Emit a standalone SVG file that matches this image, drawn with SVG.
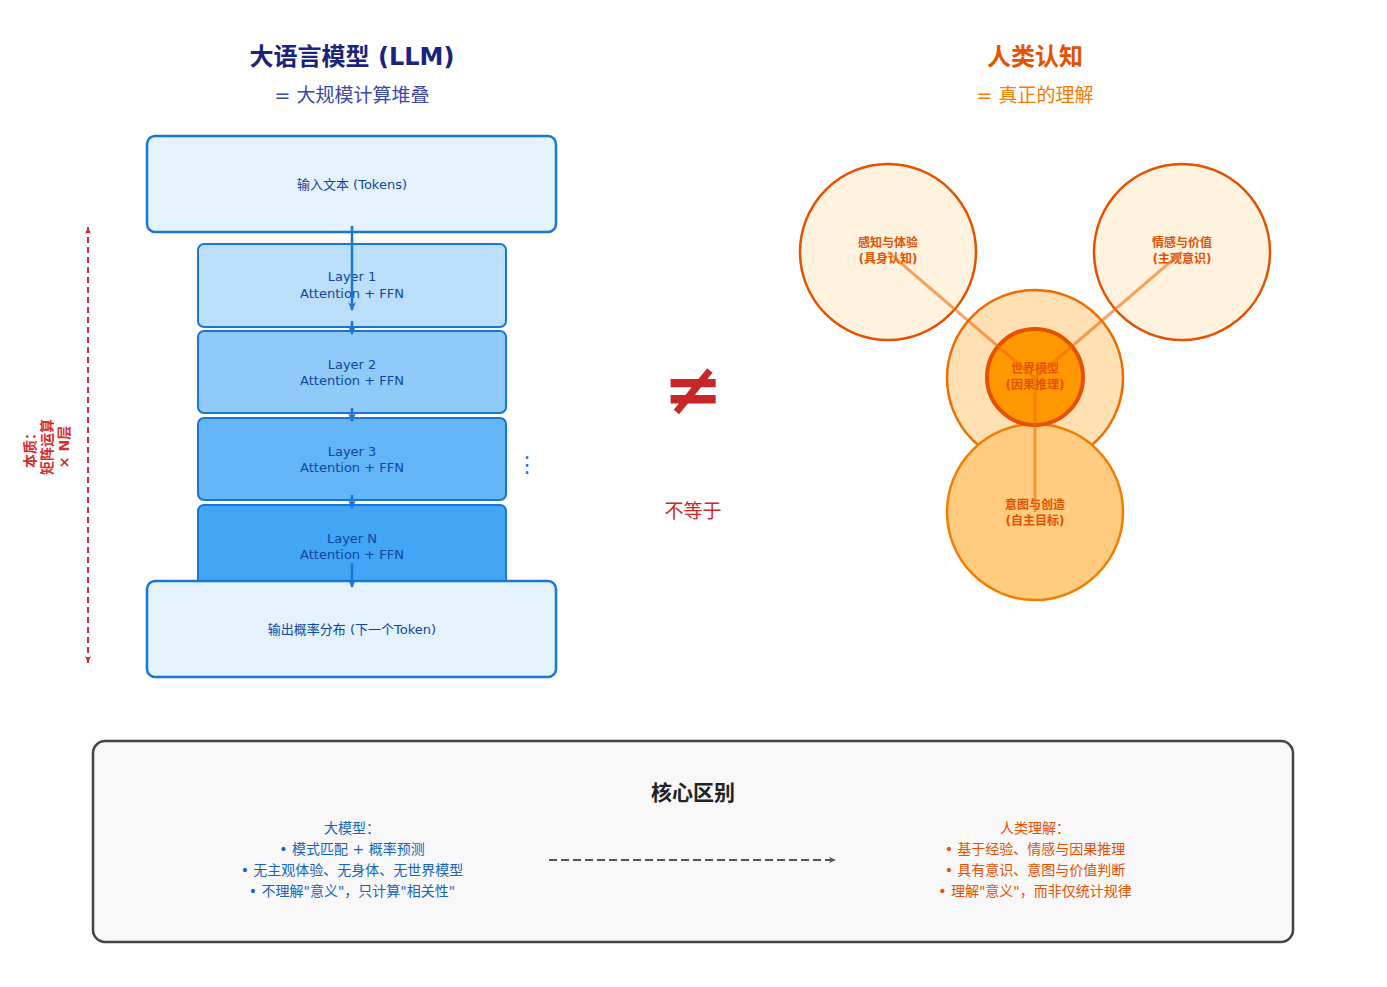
<svg xmlns="http://www.w3.org/2000/svg" width="1387" height="987" viewBox="0 0 1387 987">
<style>
text{font-family:"DejaVu Sans","Noto Sans CJK SC",sans-serif;text-anchor:middle}
.blue{fill:#0d47a1;font-size:13px}
.layer{stroke:#1976d2;stroke-width:2}
.io{fill:#e3f2fd;stroke:#1976d2;stroke-width:2.5}
.ar{stroke:#1976d2;stroke-width:2.5;fill:none}
.cog{font-size:12px;font-weight:bold;fill:#e65100}
</style>
<defs>
<marker id="ab" markerUnits="userSpaceOnUse" markerWidth="10" markerHeight="10" refX="8" refY="5" orient="auto"><path d="M0,1 L9,5 L0,9 L3,5 Z" fill="#1976d2"/></marker>
<marker id="ar" markerUnits="userSpaceOnUse" markerWidth="8" markerHeight="8" refX="7" refY="4" orient="auto-start-reverse"><path d="M0,1 L7,4 L0,7 L2,4 Z" fill="#d32f2f"/></marker>
<marker id="ag" markerUnits="userSpaceOnUse" markerWidth="8" markerHeight="8" refX="7" refY="4" orient="auto"><path d="M0,1 L7,4 L0,7 L2,4 Z" fill="#555"/></marker>
</defs>
<rect width="1387" height="987" fill="#fff"/>
<text x="352" y="65" font-size="24" font-weight="bold" fill="#1a237e">大语言模型 (LLM)</text>
<text x="352" y="102" font-size="19" fill="#3949ab">= 大规模计算堆叠</text>
<text x="1035" y="65" font-size="24" font-weight="bold" fill="#e65100">人类认知</text>
<text x="1035" y="102" font-size="19" fill="#f57c00">= 真正的理解</text>
<g id="input"><rect class="io" x="147" y="136" width="409" height="96" rx="8"/><text class="blue" x="352" y="189" font-size="16">输入文本 (Tokens)</text></g>
<g id="layer1"><rect class="layer" x="198" y="244" width="308" height="83" rx="6" fill="#bbdefb"/><text class="blue" x="352" y="281">Layer 1</text><text class="blue" x="352" y="298">Attention + FFN</text></g>
<g id="layer2"><rect class="layer" x="198" y="331" width="308" height="82" rx="6" fill="#90caf9"/><text class="blue" x="352" y="369">Layer 2</text><text class="blue" x="352" y="385">Attention + FFN</text></g>
<g id="layer3"><rect class="layer" x="198" y="418" width="308" height="82" rx="6" fill="#64b5f6"/><text class="blue" x="352" y="456">Layer 3</text><text class="blue" x="352" y="472">Attention + FFN</text></g>
<g id="layerN"><rect class="layer" x="198" y="505" width="308" height="90" rx="6" fill="#42a5f5"/><text class="blue" x="352" y="543">Layer N</text><text class="blue" x="352" y="559">Attention + FFN</text></g>
<g id="output"><rect class="io" x="147" y="581" width="409" height="96" rx="8"/><text class="blue" x="352" y="634" font-size="15">输出概率分布 (下一个Token)</text></g>
<text x="527" y="472" font-size="22" fill="#1976d2">⋮</text>
<g transform="translate(48,447) rotate(-90)" font-size="14" font-weight="bold" fill="#d32f2f">
<text x="0" y="-13">本质：</text><text x="0" y="4">矩阵运算</text><text x="0" y="21">× N层</text></g>
<text x="693" y="414" font-size="72" font-weight="bold" fill="#c62828">≠</text>
<text x="693" y="518" font-size="19" fill="#c62828">不等于</text>
<g id="perception"><circle cx="888" cy="252" r="88" fill="#fff3e0" stroke="#e65100" stroke-width="2.5"/></g>
<g id="emotion"><circle cx="1182" cy="252" r="88" fill="#fff3e0" stroke="#e65100" stroke-width="2.5"/></g>
<g id="worldouter"><circle cx="1035" cy="378" r="88" fill="#ffe0b2" stroke="#ef6c00" stroke-width="2.5"/></g>
<g id="intent"><circle cx="1035" cy="512" r="88" fill="#ffcc80" stroke="#f57c00" stroke-width="2.5"/><text class="cog" x="1035" y="509" fill="#ef6c00">意图与创造</text><text class="cog" x="1035" y="525" fill="#ef6c00">(自主目标)</text></g>
<g id="world"><circle cx="1035" cy="377" r="48" fill="#ff9800" stroke="#e65100" stroke-width="4"/><text class="cog" x="1035" y="373" fill="#ffb74d">世界模型</text><text class="cog" x="1035" y="389" fill="#ffb74d">(因果推理)</text></g>
<text class="cog" x="888" y="247">感知与体验</text><text class="cog" x="888" y="263">(具身认知)</text>
<text class="cog" x="1182" y="247">情感与价值</text><text class="cog" x="1182" y="263">(主观意识)</text>
<g id="summary"><rect x="93" y="741" width="1200" height="201" rx="12" fill="#f8f8f8" stroke="#444" stroke-width="2.5"/>
<text x="693" y="800" font-size="21" font-weight="bold" fill="#222">核心区别</text>
<g font-size="14" fill="#1565c0"><text x="352" y="833">大模型：</text><text x="352" y="854">• 模式匹配 + 概率预测</text><text x="352" y="875">• 无主观体验、无身体、无世界模型</text><text x="352" y="896">• 不理解"意义"，只计算"相关性"</text></g>
<g font-size="14" fill="#e65100"><text x="1035" y="833">人类理解：</text><text x="1035" y="854">• 基于经验、情感与因果推理</text><text x="1035" y="875">• 具有意识、意图与价值判断</text><text x="1035" y="896">• 理解"意义"，而非仅统计规律</text></g></g>
<g id="connectors">
<line class="ar" x1="352" y1="226" x2="352" y2="310" marker-end="url(#ab)"/>
<line class="ar" x1="352" y1="321" x2="352" y2="334" stroke-width="1.5" marker-end="url(#ab)"/>
<line class="ar" x1="352" y1="408" x2="352" y2="421" stroke-width="1.5" marker-end="url(#ab)"/>
<line class="ar" x1="352" y1="495" x2="352" y2="508" stroke-width="1.5" marker-end="url(#ab)"/>
<line class="ar" x1="352" y1="563" x2="352" y2="587" marker-end="url(#ab)"/>
<line x1="88" y1="227" x2="88" y2="663" stroke="#d32f2f" stroke-width="2" stroke-dasharray="6,4" marker-start="url(#ar)" marker-end="url(#ar)"/>
<line x1="549" y1="860" x2="836" y2="860" stroke="#555" stroke-width="2" stroke-dasharray="8,4" marker-end="url(#ag)"/>
<g stroke="#ef6c00" stroke-width="3" opacity="0.6">
<line x1="1035" y1="378" x2="888" y2="252"/><line x1="1035" y1="378" x2="1182" y2="252"/><line x1="1035" y1="378" x2="1035" y2="512"/></g>
</g>
</svg>
